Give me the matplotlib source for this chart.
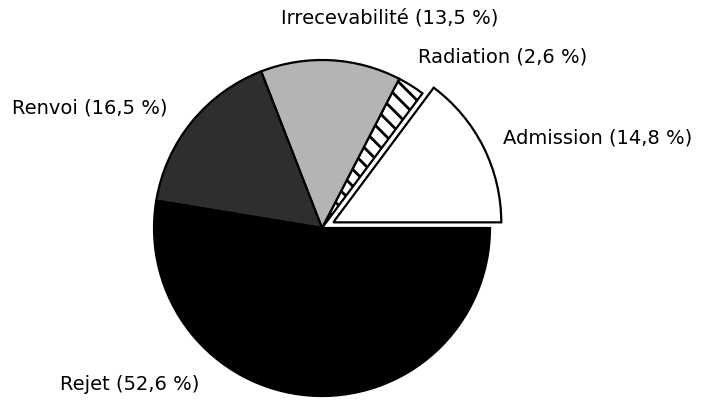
import matplotlib.pyplot as plt

# parts of the decisions, in %
labels = ['Admission', 'Radiation', 'Irrecevabilité', 'Renvoi', 'Rejet']
values = [14.8, 2.6, 13.5, 16.5, 52.6]
value_text = ['14,8', '2,6', '13,5', '16,5', '52,6']

colors = ['white', 'white', '#b4b4b4', '#2e2e2e', 'black']
hatches = [None, '\\\\', None, None, None]
explode = [0.075, 0, 0, 0, 0]

plt.rcParams['hatch.linewidth'] = 2.0
plt.rcParams['font.family'] = ['DejaVu Sans']

W, H = 710, 412
cx, cy, r = 322, 228, 168   # pie centre / radius in pixels

fig = plt.figure(figsize=(W / 100, H / 100), dpi=100)
ax = fig.add_axes([0, 0, 1, 1])

wedges, _ = ax.pie(values, explode=explode, colors=colors, startangle=0,
                   counterclock=True, radius=1,
                   wedgeprops=dict(edgecolor='black', linewidth=1.6))
for w, h in zip(wedges, hatches):
    if h:
        w.set_hatch(h)

ax.set_aspect('auto')
ax.set_xlim(-cx / r, (W - cx) / r)
ax.set_ylim(-(H - cy) / r, cy / r)
ax.axis('off')

# label positions (pixels, text centre)
label_pos = [(598, 138), (503, 57), (390, 18), (90, 108), (130, 385)]
for lab, v, (px, py) in zip(labels, value_text, label_pos):
    fig.text(px / W, 1 - py / H, lab + ' (' + v + ' %)', ha='center', va='center',
             fontsize=14)

fig.savefig('out.png', dpi=100)
